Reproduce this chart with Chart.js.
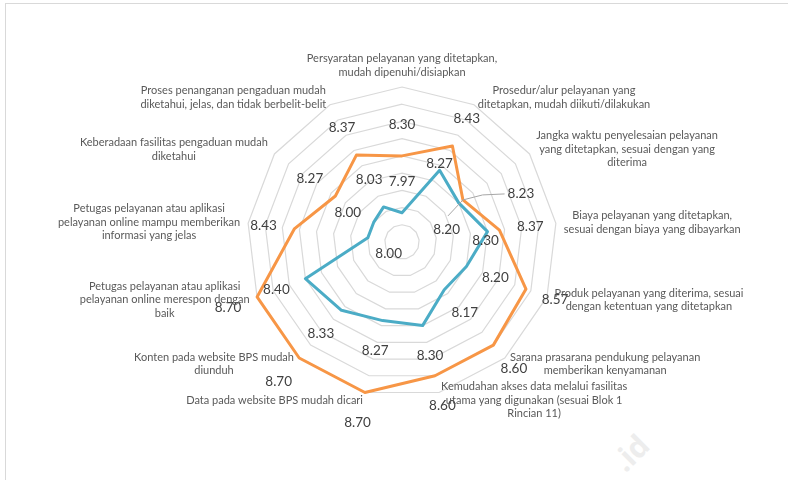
<!DOCTYPE html>
<html>
<head>
<meta charset="utf-8">
<script src="https://cdn.jsdelivr.net/npm/chart.js@4.4.1/dist/chart.umd.min.js"></script>
<style>
  html, body { margin: 0; padding: 0; background: #fff; }
  #wrap { position: relative; width: 788px; height: 480px; overflow: hidden; }
  #frame { position: absolute; left: 5px; top: 3px; width: 900px; height: 600px; border: 1px solid #d9d9d9; }
  #mark { position: absolute; left: 612px; top: 432px; font: bold 30px 'Open Sans'; color: #ededed; transform: rotate(-45deg); }
  #radar { position: absolute; left: 0; top: 0; }
</style>
</head>
<body>
<div id="wrap">
  <div id="frame"></div>
  <div id="mark">.id</div>
  <canvas id="radar" width="788" height="480"></canvas>
</div>
<script>
// categories, one entry per spoke (already split in lines like the original)
const categories = [
    ['Persyaratan pelayanan yang ditetapkan,', 'mudah dipenuhi/disiapkan'],
    ['Prosedur/alur pelayanan yang', 'ditetapkan, mudah diikuti/dilakukan'],
    ['Jangka waktu penyelesaian pelayanan', 'yang ditetapkan, sesuai dengan yang', 'diterima'],
    ['Biaya pelayanan yang ditetapkan,', 'sesuai dengan biaya yang dibayarkan'],
    ['Produk pelayanan yang diterima, sesuai', 'dengan ketentuan yang ditetapkan'],
    ['Sarana prasarana pendukung pelayanan', 'memberikan kenyamanan'],
    ['Kemudahan akses data melalui fasilitas', 'utama yang digunakan (sesuai Blok 1', 'Rincian 11)'],
    ['Data pada website BPS mudah dicari'],
    ['Konten pada website BPS mudah', 'diunduh'],
    ['Petugas pelayanan atau aplikasi', 'pelayanan online merespon dengan', 'baik'],
    ['Petugas pelayanan atau aplikasi', 'pelayanan online mampu memberikan', 'informasi yang jelas'],
    ['Keberadaan fasilitas pengaduan mudah', 'diketahui'],
    ['Proses penanganan pengaduan mudah', 'diketahui, jelas, dan tidak berbelit-belit'],
];
const orangeValues = [8.30, 8.43, 8.23, 8.37, 8.57, 8.60, 8.60, 8.70, 8.70, 8.70, 8.43, 8.27, 8.37];
const blueValues = [7.97, 8.27, 8.20, 8.30, 8.20, 8.17, 8.30, 8.27, 8.33, 8.40, 8.00, 8.00, 8.03];
const axisMin = 7.8;
const axisMax = 8.7;
const axisStep = 0.1;

// labels that were moved by hand in the original (pixels from the point)
const labelNudge = {
    '0-2': { dx: 58, dy: -6, leader: true },
    '1-1': { dx: 0, dy: -7 },
    '1-2': { dx: -12, dy: 27 },
    '1-3': { dx: -2, dy: 9 },
    '1-10': { dx: -20, dy: -25 },
    '1-11': { dx: 15, dy: 31 },
};

const valueLabels = {
    id: 'valueLabels',
    afterDatasetsDraw: function (chart) {
        const scale = chart.scales.r;
        const ctx = chart.ctx;
        ctx.save();
        ctx.font = '13.5px Lato';
        ctx.fillStyle = '#404040';
        ctx.textAlign = 'center';
        ctx.textBaseline = 'middle';
        chart.data.datasets.forEach(function (ds, d) {
            ds.data.forEach(function (v, i) {
                const dist = scale.getDistanceFromCenterForValue(v);
                const pt = scale.getPointPosition(i, dist);
                const nudge = labelNudge[d + '-' + i];
                let x, y;
                if (nudge) {
                    x = pt.x + nudge.dx;
                    y = pt.y + nudge.dy;
                } else {
                    const lp = scale.getPointPosition(i, dist + 31);
                    x = lp.x;
                    y = lp.y;
                }
                const txt = v.toFixed(2);
                if (nudge && nudge.leader) {
                    const left = x - ctx.measureText(txt).width / 2 - 3;
                    ctx.strokeStyle = '#a6a6a6';
                    ctx.lineWidth = 1;
                    ctx.beginPath();
                    ctx.moveTo(left, y);
                    ctx.lineTo(left - 22, y + 1);
                    ctx.lineTo(pt.x, pt.y);
                    ctx.lineTo(pt.x - 15, pt.y + 16);
                    ctx.stroke();
                }
                ctx.fillText(txt, x, y);
            });
        });
        ctx.restore();
    }
};

const categoryLabels = {
    id: 'categoryLabels',
    afterDraw: function (chart) {
        const scale = chart.scales.r;
        const ctx = chart.ctx;
        const lineH = 13.5;
        ctx.save();
        ctx.font = '11px Lato';
        ctx.fillStyle = '#595959';
        ctx.textAlign = 'center';
        ctx.textBaseline = 'middle';
        chart.data.labels.forEach(function (lines, i) {
            const p = scale.getPointPosition(i, scale.drawingArea + 8);
            const cos = Math.cos(p.angle);
            const sin = Math.sin(p.angle);
            const w = Math.max.apply(null, lines.map(function (l) { return ctx.measureText(l).width; }));
            const h = lines.length * lineH;
            let cx = p.x;
            let cy = p.y;
            if (cos > 0.05) cx = p.x + w / 2;
            else if (cos < -0.05) cx = p.x - w / 2;
            else cy = p.y + (sin < 0 ? -h / 2 : h / 2);
            lines.forEach(function (l, k) {
                ctx.fillText(l, cx, cy - h / 2 + lineH * (k + 0.5));
            });
        });
        ctx.restore();
    }
};

const radar = new Chart(document.getElementById('radar'), {
    type: 'radar',
    data: {
        labels: categories,
        datasets: [
            {
                label: 'Orange',
                data: orangeValues,
                borderColor: '#f79646',
                borderWidth: 3,
                fill: false,
                pointRadius: 0,
                order: 2,
            },
            {
                label: 'Blue',
                data: blueValues,
                borderColor: '#4bacc6',
                borderWidth: 3,
                fill: false,
                pointRadius: 0,
                order: 1,
            },
        ],
    },
    options: {
        responsive: false,
        animation: false,
        devicePixelRatio: 1,
        layout: { padding: { left: 16, right: 0, top: 87, bottom: 83 } },
        elements: { line: { tension: 0, borderJoinStyle: 'round' } },
        plugins: {
            legend: { display: false },
            tooltip: { enabled: false },
        },
        scales: {
            r: {
                min: axisMin,
                max: axisMax,
                ticks: { display: false, stepSize: axisStep },
                grid: { color: '#d9d9d9', lineWidth: 1.2 },
                angleLines: { display: false },
                pointLabels: { display: false },
            },
        },
    },
    plugins: [valueLabels, categoryLabels],
});
</script>
</body>
</html>
